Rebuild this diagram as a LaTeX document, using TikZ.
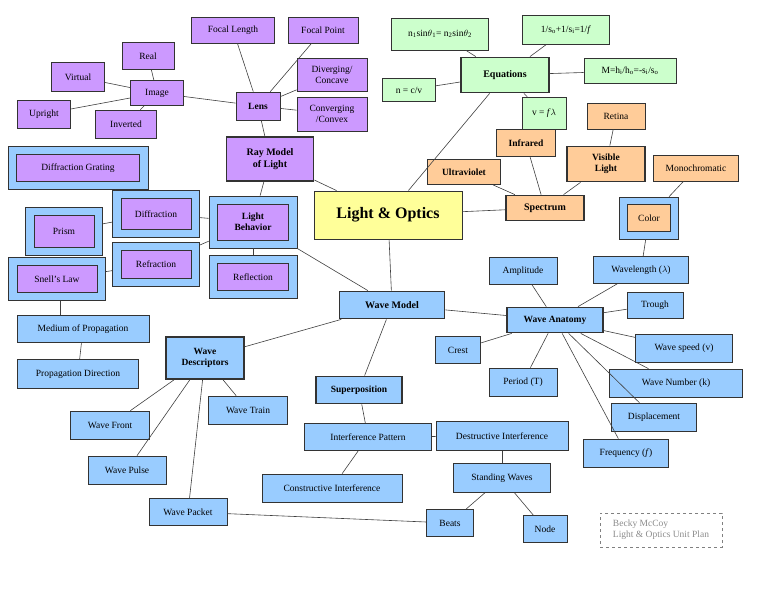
\documentclass[tikz,border=0pt]{standalone}
\usepackage{fontspec}
\setmainfont{Liberation Serif}
\begin{document}
\begin{tikzpicture}[x=1pt,y=-1pt,
 box/.style={draw=black!80,line width=0.7pt,inner sep=1pt,align=center,font=\fontsize{9.5}{10.5}\selectfont},
 pu/.style={box,fill=pur},bl/.style={box,fill=blu},gr/.style={box,fill=grn},or/.style={box,fill=org},
 thk/.style={line width=1.8pt,font=\fontsize{10}{12}\selectfont\bfseries},
 ln/.style={draw=black!75,line width=0.6pt}]
\definecolor{pur}{HTML}{CC99FF}\definecolor{blu}{HTML}{99CCFF}\definecolor{grn}{HTML}{CCFFCC}
\definecolor{org}{HTML}{FFCC99}\definecolor{yel}{HTML}{FFFF99}
\useasboundingbox[fill=white] (0,0) rectangle (768,594);
\newcommand{\bx}[6]{\node[#1,minimum width=#4,minimum height=#5] (#2) at (#3) {#6};}
\newcommand{\nest}[5]{\node[bl,minimum width=#3,minimum height=#4] (#1) at (#2) {};
 \node[pu,minimum width=#3-17,minimum height=#4-16] at (#2) {#5};}
% purple
\bx{pu}{fl}{233,30}{83}{26}{Focal Length}
\bx{pu}{fp}{323,30}{70}{26}{Focal Point}
\bx{pu}{real}{148,56}{52}{27}{Real}
\bx{pu}{virt}{78,77}{53}{29}{Virtual}
\bx{pu}{img}{157,93}{53}{25}{Image}
\bx{pu}{up}{44,114}{53}{28}{Upright}
\bx{pu}{inv}{126,124}{61}{28}{Inverted}
\bx{pu,font=\fontsize{9.5}{10.5}\selectfont\bfseries}{lens}{258,106}{44}{28}{Lens}
\bx{pu}{div}{332,75}{70}{33}{Diverging/\\Concave}
\bx{pu}{conv}{332,114}{70}{34}{Converging\\/Convex}
\bx{pu,thk}{ray}{270,159}{87}{44}{Ray Model\\of Light}
\nest{dg}{78,168}{140}{43}{Diffraction Grating}
\nest{dif}{156,214}{87}{47}{Diffraction}
\nest{prism}{64,231}{77}{48}{Prism}
\node[bl,minimum width=88,minimum height=52] (lb) at (253,222) {};
\node[pu,minimum width=71,minimum height=36,font=\fontsize{9.5}{11}\selectfont\bfseries,align=center] at (253,222) {Light\\Behavior};
\nest{refr}{156,264}{87}{44}{Refraction}
\nest{snell}{57,279}{97}{43}{Snell's Law}
\nest{refl}{253,277}{88}{43}{Reflection}
% main
\bx{box,fill=yel,line width=0.9pt,font=\fontsize{16}{18}\selectfont\bfseries}{lo}{388,215}{148}{48}{Light \& Optics}
% green
\bx{gr}{snl}{440,34}{97}{32}{n\textsubscript{1}sin$\theta$\textsubscript{1}= n\textsubscript{2}sin$\theta$\textsubscript{2}}
\bx{gr}{lens2}{566,30}{87}{29}{1/s\textsubscript{o}+1/s\textsubscript{i}=1/\textit{f}}
\bx{gr,thk}{eq}{505,75}{88}{35}{Equations}
\bx{gr}{mag}{630,71}{92}{25}{M=h\textsubscript{i}/h\textsubscript{o}=-s\textsubscript{i}/s\textsubscript{o}}
\bx{gr}{ncv}{409,90}{53}{23}{n = c/v}
\bx{gr}{vfl}{544,113}{44}{32}{v = \textit{f}$\lambda$}
% orange
\bx{or}{ret}{616,116}{58}{26}{Retina}
\bx{or,font=\fontsize{9.5}{10.5}\selectfont\bfseries}{ir}{526,143}{59}{27}{Infrared}
\bx{or,thk,font=\fontsize{9.5}{11}\selectfont\bfseries}{vis}{606,164}{78}{35}{Visible\\Light}
\bx{or,font=\fontsize{9.5}{10.5}\selectfont\bfseries}{uv}{464,172}{73}{25}{Ultraviolet}
\bx{or,thk}{spec}{545,208}{78}{25}{Spectrum}
\bx{or}{mono}{696,168}{85}{26}{Monochromatic}
\node[bl,minimum width=59,minimum height=42] (col) at (649,218) {};
\node[or,minimum width=43,minimum height=27] at (649,218) {Color};
% blue
\bx{bl}{amp}{523,271}{68}{27}{Amplitude}
\bx{bl}{wl}{641,270}{95}{27}{Wavelength ($\lambda$)}
\bx{bl}{tr}{655,305}{56}{26}{Trough}
\bx{bl,thk}{wm}{392,305}{105}{27}{Wave Model}
\bx{bl,thk,font=\fontsize{9.5}{10.5}\selectfont\bfseries}{wa}{555,320}{96}{25}{Wave Anatomy}
\bx{bl}{ws}{684,348}{97}{28}{Wave speed (v)}
\bx{bl}{crest}{458,350}{45}{27}{Crest}
\bx{bl}{med}{83,329}{132}{27}{Medium of Propagation}
\bx{bl,thk,font=\fontsize{9.5}{11}\selectfont\bfseries}{wd}{205,358}{78}{42}{Wave\\Descriptors}
\bx{bl}{pd}{78,374}{121}{29}{Propagation Direction}
\bx{bl,thk,font=\fontsize{9.5}{10.5}\selectfont\bfseries}{sup}{359,390}{86}{27}{Superposition}
\bx{bl}{per}{523,382}{68}{28}{Period (T)}
\bx{bl}{wn}{676,383}{133}{28}{Wave Number (k)}
\bx{bl}{wt}{248,410}{79}{28}{Wave Train}
\bx{bl}{disp}{654,417}{85}{28}{Displacement}
\bx{bl}{wf}{110,425}{79}{28}{Wave Front}
\bx{bl}{ip}{368,437}{127}{27}{Interference Pattern}
\bx{bl}{di}{502,436}{132}{29}{Destructive Interference}
\bx{bl}{freq}{626,453}{85}{28}{Frequency (\textit{f})}
\bx{bl}{wp}{127,470}{78}{28}{Wave Pulse}
\bx{bl}{sw}{502,478}{97}{29}{Standing Waves}
\bx{bl}{ci}{332,488}{140}{28}{Constructive Interference}
\bx{bl}{wpk}{188,512}{78}{27}{Wave Packet}
\bx{bl}{beats}{450,523}{47}{27}{Beats}
\bx{bl}{node}{545,529}{44}{27}{Node}
\node[draw=black!50,dashed,line width=0.7pt,minimum width=122,minimum height=34,align=left,text=black!45,font=\fontsize{9.5}{11}\selectfont] (bm) at (661,530) {Becky McCoy\\Light \& Optics Unit Plan};
% connectors
\foreach \a/\b in {real/img,virt/img,up/img,inv/img,img/lens,fl/lens,fp/lens,div/lens,conv/lens,lens/ray,ray/lo,ray/lb,lb/dif,dif/dg,dif/prism,lb/refr,refr/snell,lb/refl,lb/wm,med/pd,wd/wf,wd/wp,wd/wpk,wd/wt,wm/wd,wm/sup,wm/wa,lo/wm,lo/eq,lo/spec,eq/snl,eq/lens2,eq/mag,eq/ncv,eq/vfl,spec/ir,spec/uv,spec/vis,vis/ret,col/mono,col/wl,wa/amp,wa/crest,wa/per,wa/wl,wa/tr,wa/ws,wa/wn,wa/disp,wa/freq,sup/ip,ip/di,ip/ci,di/sw,sw/beats,sw/node,wpk/beats}
 \draw[ln] (\a) -- (\b);
\draw[ln] (snell.south -| 60,0) -- (med.north -| 60,0);
\end{tikzpicture}
\end{document}
